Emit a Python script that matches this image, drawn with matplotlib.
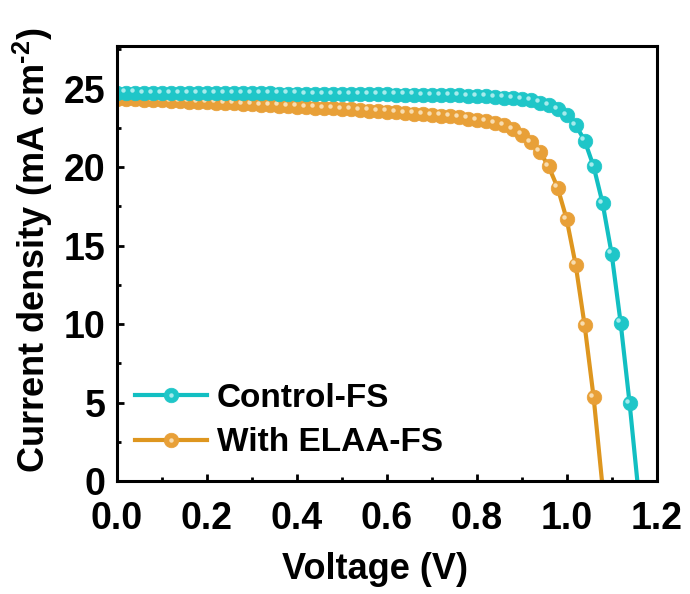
import matplotlib
matplotlib.use("Agg")
import matplotlib.pyplot as plt
import matplotlib.transforms as mtransforms
from matplotlib.ticker import MultipleLocator
from matplotlib.legend_handler import HandlerTuple

# J-V data (V, mA cm-2) at 0.02 V steps
volt_control = [0.00, 0.02, 0.04, 0.06, 0.08, 0.10, 0.12, 0.14, 0.16, 0.18,
                0.20, 0.22, 0.24, 0.26, 0.28, 0.30, 0.32, 0.34, 0.36, 0.38,
                0.40, 0.42, 0.44, 0.46, 0.48, 0.50, 0.52, 0.54, 0.56, 0.58,
                0.60, 0.62, 0.64, 0.66, 0.68, 0.70, 0.72, 0.74, 0.76, 0.78,
                0.80, 0.82, 0.84, 0.86, 0.88, 0.90, 0.92, 0.94, 0.96, 0.98,
                1.00, 1.02, 1.04, 1.06, 1.08, 1.10, 1.12, 1.14, 1.16]
j_control = [24.75, 24.75, 24.75, 24.74, 24.74, 24.74, 24.73, 24.73, 24.73, 24.72,
             24.72, 24.72, 24.71, 24.71, 24.71, 24.70, 24.70, 24.70, 24.69, 24.69,
             24.69, 24.68, 24.68, 24.67, 24.67, 24.66, 24.66, 24.65, 24.65, 24.64,
             24.64, 24.63, 24.62, 24.62, 24.61, 24.60, 24.59, 24.58, 24.57, 24.55,
             24.53, 24.51, 24.48, 24.44, 24.39, 24.33, 24.25, 24.12, 23.95, 23.70,
             23.30, 22.70, 21.70, 20.05, 17.70, 14.50, 10.10, 4.96, -0.80]

volt_elaa = [0.00, 0.02, 0.04, 0.06, 0.08, 0.10, 0.12, 0.14, 0.16, 0.18,
             0.20, 0.22, 0.24, 0.26, 0.28, 0.30, 0.32, 0.34, 0.36, 0.38,
             0.40, 0.42, 0.44, 0.46, 0.48, 0.50, 0.52, 0.54, 0.56, 0.58,
             0.60, 0.62, 0.64, 0.66, 0.68, 0.70, 0.72, 0.74, 0.76, 0.78,
             0.80, 0.82, 0.84, 0.86, 0.88, 0.90, 0.92, 0.94, 0.96, 0.98,
             1.00, 1.02, 1.04, 1.06, 1.08]
j_elaa = [24.36, 24.34, 24.32, 24.30, 24.28, 24.26, 24.23, 24.21, 24.18, 24.16,
          24.13, 24.11, 24.08, 24.06, 24.03, 24.00, 23.98, 23.95, 23.92, 23.89,
          23.86, 23.83, 23.80, 23.77, 23.74, 23.71, 23.68, 23.65, 23.61, 23.58,
          23.54, 23.50, 23.46, 23.42, 23.38, 23.33, 23.28, 23.23, 23.17, 23.10,
          23.02, 22.93, 22.83, 22.70, 22.45, 22.08, 21.62, 21.00, 20.05, 18.70,
          16.70, 13.80, 9.94, 5.35, -0.40]

labels = ["Control-FS", "With ELAA-FS"]

plt.rcParams['font.family'] = ['Liberation Sans', 'DejaVu Sans']
plt.rcParams['font.weight'] = 'bold'
plt.rcParams['mathtext.fontset'] = 'custom'
plt.rcParams['mathtext.rm'] = 'Liberation Sans:bold'
plt.rcParams['mathtext.bf'] = 'Liberation Sans:bold'
plt.rcParams['mathtext.default'] = 'bf'

fig = plt.figure(figsize=(6.9, 5.94), dpi=100)
ax = fig.add_axes([0.169, 0.190, 0.7826, 0.732])

# little shine on each ball, shifted up-left
shine = mtransforms.offset_copy(ax.transData, fig=fig, x=-1.6, y=1.6, units='points')

series = [
    (volt_control, j_control, '#12BFC2', '#1FC6C8', '#A6EBEC', 4),
    (volt_elaa, j_elaa, '#DE961F', '#E8A038', '#F8DDB0', 2),
]
handles = []
for (v, j, lc, fc, hc, z), lab in zip(series, labels):
    ln, = ax.plot(v, j, '-', color=lc, lw=3, marker='o', ms=10.5,
                  mfc=fc, mec=fc, mew=0.5, label=lab, zorder=z)
    hl, = ax.plot(v, j, 'o', ms=3.2, color=hc, mec='none', transform=shine,
                  zorder=z + 0.5)
    handles.append((ln, hl))

ax.set_xlim(0, 1.2)
ax.set_ylim(0, 27.7)
ax.xaxis.set_major_locator(MultipleLocator(0.2))
ax.xaxis.set_minor_locator(MultipleLocator(0.1))
ax.yaxis.set_major_locator(MultipleLocator(5))
ax.yaxis.set_minor_locator(MultipleLocator(2.5))
ax.xaxis.set_major_formatter(matplotlib.ticker.FormatStrFormatter('%.1f'))

ax.tick_params(which='major', direction='in', length=5, width=2, labelsize=27)
ax.tick_params(axis='x', which='major', pad=14)
ax.tick_params(axis='y', which='major', pad=8)
ax.tick_params(which='minor', direction='in', length=3, width=2)
ax.tick_params(top=False, right=False)
for s in ax.spines.values():
    s.set_linewidth(2.2)
    s.set_zorder(10)

ax.set_xlabel('Voltage (V)', fontsize=26, fontweight='bold')
ax.set_ylabel(r'Current density (mA cm$^{\text{-2}}$)', fontsize=26,
              fontweight='bold')
ax.xaxis.set_label_coords(0.478, -0.163)
ax.yaxis.set_label_coords(-0.114, 0.53)

ax.legend(handles, labels, handler_map={tuple: HandlerTuple(ndivide=1, pad=0)},
          loc='lower left', bbox_to_anchor=(0.0, 0.01), frameon=False,
          fontsize=24, handlelength=2.15, handletextpad=0.3, labelspacing=0.4,
          borderaxespad=0.15)

fig.savefig('out.png', dpi=100)
